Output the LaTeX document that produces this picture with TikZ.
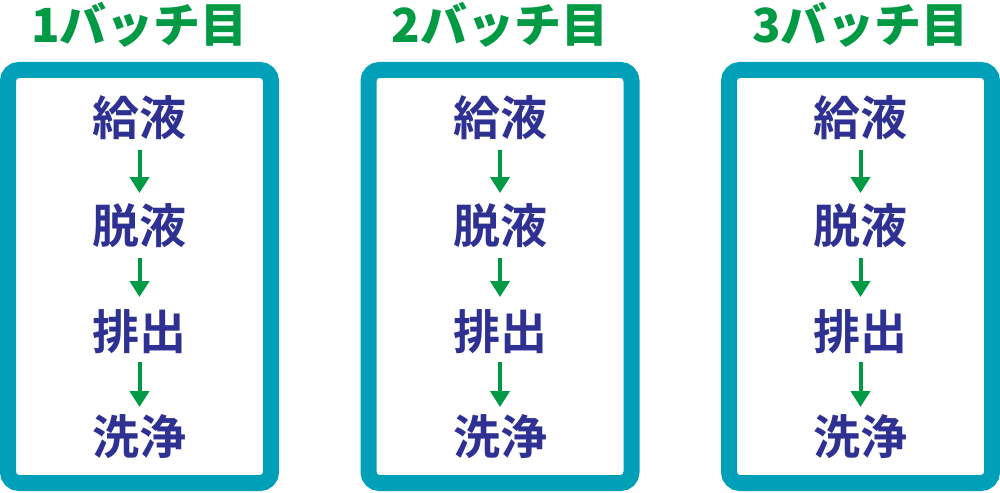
\documentclass[tikz,border=0pt]{standalone}
\usepackage{fontspec}
\newfontfamily\jpb{Noto Sans CJK JP Bold}
\newfontfamily\jpblk{Noto Sans CJK JP Black}
\usetikzlibrary{arrows.meta}
\definecolor{boxteal}{RGB}{0,160,184}
\definecolor{arrgreen}{RGB}{0,153,68}
\definecolor{txtblue}{RGB}{46,49,146}
\tikzset{
  batchbox/.style={draw=boxteal, line width=16pt, rounded corners=11pt},
  titletxt/.style={text=arrgreen, font=\jpblk\fontsize{47}{50}\selectfont, inner sep=0pt},
  steptxt/.style={text=txtblue, font=\jpb\fontsize{47}{50}\selectfont, inner sep=0pt},
  flowarr/.style={draw=arrgreen, line width=4pt, -{Triangle[width=19pt,length=16pt]}}
}
\begin{document}
\begin{tikzpicture}[x=1pt,y=-1pt]
\useasboundingbox (0,0) rectangle (1000,492);
\foreach \i/\cx/\lab in {1/139.5/1,2/500/2,3/860.5/3}{
  \draw[batchbox] (\cx-131.5,70) rectangle (\cx+131.5,483);
  \node[titletxt] (t\i) at (\cx,25) {\lab バッチ目};
  \node[steptxt] (a\i) at (\cx,118) {給液};
  \node[steptxt] (b\i) at (\cx,226) {脱液};
  \node[steptxt] (c\i) at (\cx,332) {排出};
  \node[steptxt] (d\i) at (\cx,437) {洗浄};
  \draw[flowarr] ([yshift=-32pt]a\i.center) -- ([yshift=33pt]b\i.center);
  \draw[flowarr] ([yshift=-32pt]b\i.center) -- ([yshift=35pt]c\i.center);
  \draw[flowarr] ([yshift=-30pt]c\i.center) -- ([yshift=30pt]d\i.center);
}
\end{tikzpicture}
\end{document}
